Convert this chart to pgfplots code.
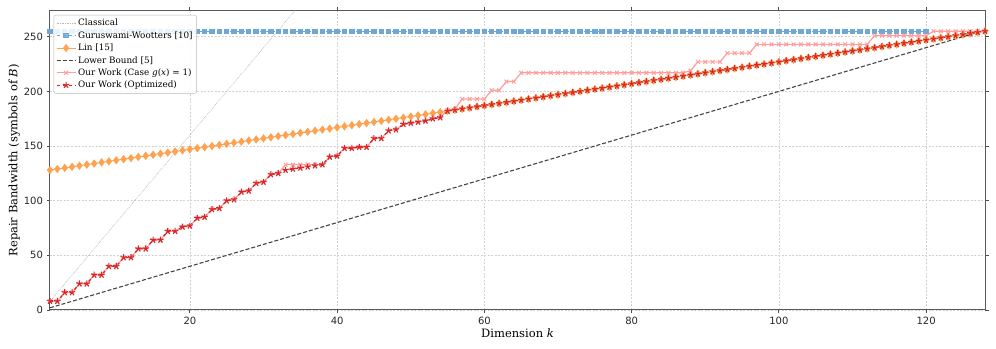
\documentclass[border=0pt]{standalone}
\usepackage{fontspec}
\setmainfont{DejaVu Serif}
\newfontfamily\ticksans{DejaVu Sans}
\usepackage{pgfplots}
\usepackage{pgfplotstable}
\pgfplotsset{compat=1.18}

\definecolor{gwblue}{HTML}{6FA8D6}
\definecolor{linorange}{HTML}{FFA250}
\definecolor{lbgray}{HTML}{454545}
\definecolor{pinkx}{HTML}{FF9E9C}
\definecolor{ourred}{HTML}{D62728}

% k, Lin [15], case g(x)=1, optimized, Guruswami-Wootters
\pgfplotstableread{
k lin pink red gw
1 128 8 8 255
2 129 8 8 255
3 130 16 16 255
4 131 16 16 255
5 132 24 24 255
6 133 24 24 255
7 134 32 32 255
8 135 32 32 255
9 136 40 40 255
10 137 40 40 255
11 138 48 48 255
12 139 48 48 255
13 140 56 56 255
14 141 56 56 255
15 142 64 64 255
16 143 64 64 255
17 144 72 72 255
18 145 72 72 255
19 146 76 76 255
20 147 77 77 255
21 148 84 84 255
22 149 85 85 255
23 150 92 92 255
24 151 93 93 255
25 152 100 100 255
26 153 101 101 255
27 154 108 108 255
28 155 109 109 255
29 156 116 116 255
30 157 117 117 255
31 158 124 124 255
32 159 125 125 255
33 160 133 128 255
34 161 133 129 255
35 162 133 130 255
36 163 133 131 255
37 164 133 132 255
38 165 133 133 255
39 166 140 140 255
40 167 141 141 255
41 168 148 148 255
42 169 148 148 255
43 170 149 149 255
44 171 149 149 255
45 172 157 157 255
46 173 157 157 255
47 174 164 164 255
48 175 165 165 255
49 176 170 170 255
50 177 171 171 255
51 178 172 172 255
52 179 173 173 255
53 180 175 175 255
54 181 176 176 255
55 182 183 182 255
56 183 184 183 255
57 184 193 184 255
58 185 193 185 255
59 186 193 186 255
60 187 193 187 255
61 188 201 188 255
62 189 201 189 255
63 190 209 190 255
64 191 209 191 255
65 192 217 192 255
66 193 217 193 255
67 194 217 194 255
68 195 217 195 255
69 196 217 196 255
70 197 217 197 255
71 198 217 198 255
72 199 217 199 255
73 200 217 200 255
74 201 217 201 255
75 202 217 202 255
76 203 217 203 255
77 204 217 204 255
78 205 217 205 255
79 206 217 206 255
80 207 217 207 255
81 208 217 208 255
82 209 217 209 255
83 210 217 210 255
84 211 217 211 255
85 212 217 212 255
86 213 217 213 255
87 214 217 214 255
88 215 219 215 255
89 216 227 216 255
90 217 227 217 255
91 218 227 218 255
92 219 227 219 255
93 220 235 220 255
94 221 235 221 255
95 222 235 222 255
96 223 235 223 255
97 224 243 224 255
98 225 243 225 255
99 226 243 226 255
100 227 243 227 255
101 228 243 228 255
102 229 243 229 255
103 230 243 230 255
104 231 243 231 255
105 232 243 232 255
106 233 243 233 255
107 234 243 234 255
108 235 243 235 255
109 236 243 236 255
110 237 243 237 255
111 238 243 238 255
112 239 243 239 255
113 240 251 240 255
114 241 251 241 255
115 242 251 242 255
116 243 251 243 255
117 244 251 244 255
118 245 251 245 255
119 246 251 246 255
120 247 251 247 255
121 248 255 248 nan
122 249 255 249 nan
123 250 255 250 nan
124 251 255 251 nan
125 252 255 252 nan
126 253 255 253 nan
127 254 255 254 nan
128 255 255 255 nan
}\bwdata

\begin{document}
\begin{tikzpicture}
\begin{axis}[
  scale only axis,
  width=935pt,
  height=299.5pt,
  xmin=1, xmax=128,
  ymin=0, ymax=274,
  xtick={20,40,...,120},
  ytick={0,50,...,250},
  /pgf/number format/assume math mode=true,
  tick label style={font=\ticksans\fontsize{10}{12}\selectfont, black!85},
  tick align=outside,
  major tick length=3.5pt,
  tick style={black!70, line width=0.8pt},
  axis line style={black!65, line width=1pt},
  grid=major,
  major grid style={dash pattern=on 2pt off 1.5pt, gray!35, line width=0.5pt},
  xlabel={Dimension \textit{k}},
  ylabel={Repair Bandwidth (symbols of \textit{B})},
  label style={font=\fontsize{11.5}{13}\selectfont},
  xlabel style={yshift=3pt},
  ylabel style={yshift=-3pt},
  unbounded coords=jump,
  legend cell align=left,
  legend style={at={(0.004,0.985)}, anchor=north west,
    draw=gray!55, rounded corners=2pt, fill=white, fill opacity=0.85, text opacity=1,
    font=\fontsize{8.8}{10.5}\selectfont, inner sep=2pt,
    row sep=0.2pt},
  legend image code/.code={\draw[mark repeat=2,mark phase=2,#1] plot coordinates {(0pt,0pt) (9.5pt,0pt) (19pt,0pt)};},
]
\addplot[gray!55, densely dotted, line width=0.7pt] coordinates {(1,8) (128,1024)};
\addlegendentry{Classical}
\addplot[gwblue, dashed, line width=1pt, mark=square*, mark size=2.2pt, mark options={solid}] table[x=k, y=gw] {\bwdata};
\addlegendentry{Guruswami-Wootters [10]}
\addplot[linorange, line width=1pt, mark=diamond*, mark size=3.4pt, mark options={solid}] table[x=k, y=lin] {\bwdata};
\addlegendentry{Lin [15]}
\addplot[lbgray, dash pattern=on 4pt off 2pt, line width=1.1pt] coordinates {(1,2) (128,256)};
\addlegendentry{Lower Bound [5]}
\addplot[pinkx, line width=1.2pt, mark=x, mark size=2.7pt, mark options={solid, line width=1pt}] table[x=k, y=pink] {\bwdata};
\addlegendentry{Our Work (Case \textit{g}(\textit{x}) = 1)}
\addplot[ourred, dashed, line width=1.3pt, mark=star, mark size=3.3pt, mark options={solid, fill=ourred, line width=1.1pt}] table[x=k, y=red] {\bwdata};
\addlegendentry{Our Work (Optimized)}
\end{axis}
\path (current axis.south west) ++(-50pt,-39pt) coordinate (bbl);
\path (current axis.north east) ++(11pt,10.5pt) coordinate (bbr);
\path (bbl) rectangle (bbr);
\end{tikzpicture}
\end{document}
